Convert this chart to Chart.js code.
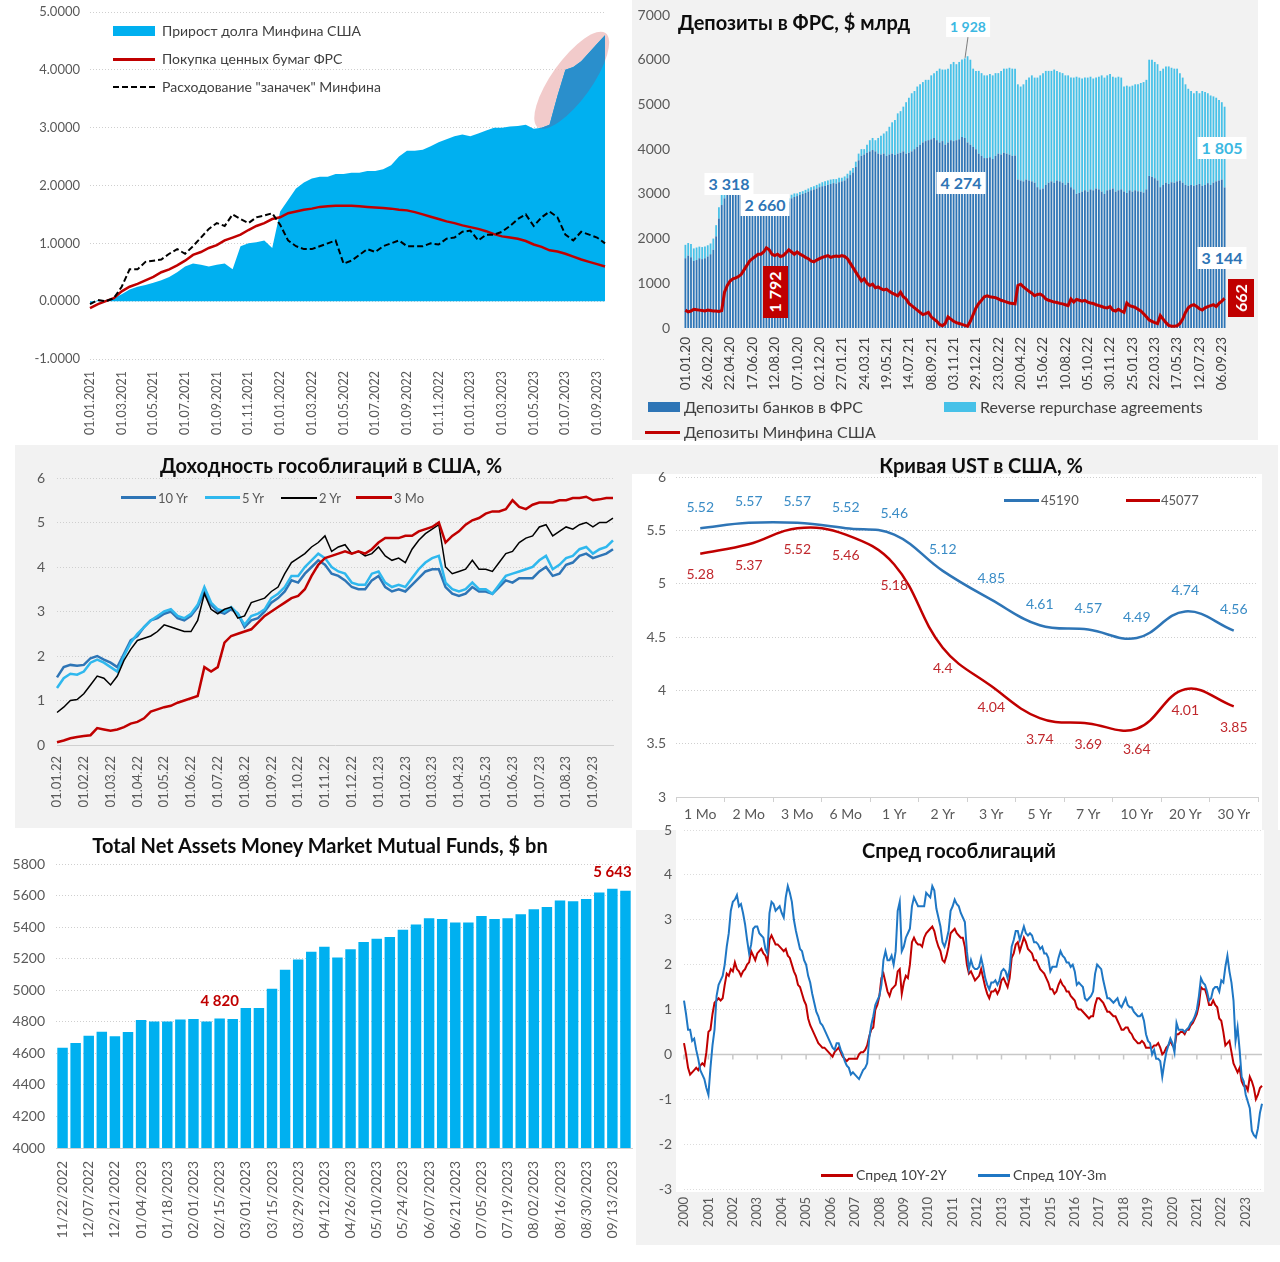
<!DOCTYPE html>
<html>
<head>
<meta charset="utf-8">
<title>Ликвидность в США</title>
<script src="https://cdn.jsdelivr.net/npm/chart.js@4.4.0/dist/chart.umd.min.js"></script>
<style>
  body { margin: 0; width: 1280px; height: 1262px; position: relative; overflow: hidden; background: #fff;
         font-family: Lato, "Noto Sans", sans-serif; }
  .box { position: absolute; }
  canvas { position: absolute; }
  .txt { position: absolute; white-space: nowrap; line-height: 1; }
  .mid { transform: translate(-50%, -50%); }
  .lft { transform: translateY(-50%); }
  .title { font-weight: 700; font-size: 20px; color: #0d0d0d; }
  .leg { font-size: 13px; color: #595959; }
  .tag { background: #fff; padding: 3px 4px; font-weight: 700; font-size: 16px; }
</style>
</head>
<body>

<!-- panel backgrounds -->
<div class="box" style="left:632px;top:0;width:626px;height:440px;background:#f2f2f2"></div>
<div class="box" style="left:15px;top:445px;width:617px;height:383px;background:#f2f2f2"></div>
<div class="box" style="left:632px;top:445px;width:646px;height:385px;background:#f2f2f2"></div>
<div class="box" style="left:632px;top:474px;width:630px;height:356px;background:#fff"></div>
<div class="box" style="left:636px;top:830px;width:644px;height:415px;background:#f2f2f2"></div>
<div class="box" style="left:676px;top:830px;width:588px;height:362px;background:#fff"></div>

<canvas id="debtChart" width="620" height="440" style="left:0;top:0"></canvas>
<canvas id="fedChart" width="626" height="440" style="left:632px;top:0"></canvas>
<canvas id="yieldChart" width="617" height="375" style="left:15px;top:445px"></canvas>
<canvas id="curveChart" width="646" height="385" style="left:632px;top:445px"></canvas>
<canvas id="mmfChart" width="640" height="442" style="left:0;top:820px"></canvas>
<canvas id="spreadChart" width="644" height="425" style="left:636px;top:820px"></canvas>

<!-- panel 1 legend -->
<div class="box" style="left:113px;top:26px;width:42px;height:10px;background:#00b0f0"></div>
<div class="txt lft leg" style="left:162px;top:31px;font-size:14px;color:#404040">Прирост долга Минфина США</div>
<div class="box" style="left:113px;top:58px;width:42px;height:2.5px;background:#c00000"></div>
<div class="txt lft leg" style="left:162px;top:59px;font-size:14px;color:#404040">Покупка ценных бумаг ФРС</div>
<div class="box" style="left:113px;top:86px;width:42px;height:0;border-top:2px dashed #000"></div>
<div class="txt lft leg" style="left:162px;top:87px;font-size:14px;color:#404040">Расходование "заначек" Минфина</div>

<!-- panel 2 title, tags, legend -->
<div class="txt lft title" style="left:678px;top:22px">Депозиты в ФРС, $ млрд</div>
<div class="box" style="left:966px;top:37px;width:1px;height:21px;background:#7f7f7f;transform:rotate(8deg)"></div>
<div class="txt mid tag" style="left:968px;top:27px;color:#3cb8e2;font-size:14px">1 928</div>
<div class="txt mid tag" style="left:729px;top:184px;color:#2e75b6">3 318</div>
<div class="txt mid tag" style="left:765px;top:205px;color:#2e75b6">2 660</div>
<div class="txt mid tag" style="left:961px;top:183px;color:#2e75b6">4 274</div>
<div class="txt mid tag" style="left:1222px;top:148px;color:#3cb8e2">1 805</div>
<div class="txt mid tag" style="left:1222px;top:258px;color:#2e75b6">3 144</div>
<div class="box" style="left:763px;top:266px;width:25px;height:52px;background:#c00000"></div>
<div class="txt" style="left:775px;top:292px;transform:translate(-50%,-50%) rotate(-90deg);color:#fff;font-weight:700;font-size:16px">1 792</div>
<div class="box" style="left:1228px;top:279px;width:26px;height:38px;background:#c00000"></div>
<div class="txt" style="left:1241px;top:298px;transform:translate(-50%,-50%) rotate(-90deg);color:#fff;font-weight:700;font-size:16px">662</div>
<div class="box" style="left:648px;top:402px;width:32px;height:10px;background:#2e75b6"></div>
<div class="txt lft" style="left:684px;top:407px;font-size:16px;color:#404040">Депозиты банков в ФРС</div>
<div class="box" style="left:944px;top:402px;width:32px;height:10px;background:#47c1e8"></div>
<div class="txt lft" style="left:980px;top:407px;font-size:16px;color:#404040">Reverse repurchase agreements</div>
<div class="box" style="left:645px;top:431px;width:35px;height:3px;background:#c00000"></div>
<div class="txt lft" style="left:684px;top:432px;font-size:16px;color:#404040">Депозиты Минфина США</div>

<!-- panel 3 title, legend -->
<div class="txt mid title" style="left:331px;top:465px">Доходность гособлигаций в США, %</div>
<div class="box" style="left:121px;top:496px;width:35px;height:3px;background:#2e75b6"></div>
<div class="txt lft leg" style="left:158px;top:498px">10 Yr</div>
<div class="box" style="left:205px;top:496px;width:35px;height:3px;background:#2fb8ee"></div>
<div class="txt lft leg" style="left:242px;top:498px">5 Yr</div>
<div class="box" style="left:281px;top:497px;width:36px;height:1.5px;background:#000"></div>
<div class="txt lft leg" style="left:319px;top:498px">2 Yr</div>
<div class="box" style="left:356px;top:496px;width:36px;height:3px;background:#c00000"></div>
<div class="txt lft leg" style="left:394px;top:498px">3 Mo</div>

<!-- panel 4 title, legend -->
<div class="txt mid title" style="left:981px;top:465px">Кривая UST в США, %</div>
<div class="box" style="left:1004px;top:499px;width:35px;height:3px;background:#2e75b6"></div>
<div class="txt lft leg" style="left:1041px;top:500px">45190</div>
<div class="box" style="left:1126px;top:499px;width:34px;height:3px;background:#c00000"></div>
<div class="txt lft leg" style="left:1161px;top:500px">45077</div>

<!-- panel 5 title -->
<div class="txt mid title" style="left:320px;top:845px">Total Net Assets Money Market Mutual Funds, $ bn</div>

<!-- panel 6 title, legend -->
<div class="txt mid title" style="left:959px;top:850px">Спред гособлигаций</div>
<div class="box" style="left:821px;top:1174px;width:32px;height:2.5px;background:#c00000"></div>
<div class="txt lft" style="left:856px;top:1175px;font-size:14px;color:#404040">Спред 10Y-2Y</div>
<div class="box" style="left:978px;top:1174px;width:32px;height:2.5px;background:#1f77c4"></div>
<div class="txt lft" style="left:1013px;top:1175px;font-size:14px;color:#404040">Спред 10Y-3m</div>

<script>
function pad2(n) { return (n < 10 ? '0' : '') + n; }

// ---------- 1. debt growth, trillions, twice a month from 01.01.2021 ----------
var debtLabels = [];
for (var y = 2021; y <= 2023; y++) {
    for (var m = 1; m <= 12; m++) {
        debtLabels.push('01.' + pad2(m) + '.' + y, '15.' + pad2(m) + '.' + y);
    }
}
debtLabels.length = 66;

var debtGrowth = [
    -0.05, 0.02, 0.02, 0.05, 0.12, 0.20, 0.25, 0.28, 0.32, 0.36, 0.42, 0.50,
    0.60, 0.65, 0.63, 0.60, 0.63, 0.65, 0.55, 0.95, 1.00, 1.02, 1.05, 0.92,
    1.55, 1.75, 1.95, 2.05, 2.12, 2.15, 2.15, 2.20, 2.20, 2.22, 2.22, 2.25,
    2.25, 2.28, 2.35, 2.50, 2.60, 2.60, 2.62, 2.68, 2.75, 2.80, 2.85, 2.88,
    2.85, 2.90, 2.95, 3.00, 3.00, 3.02, 3.03, 3.05, 2.98, 3.00, 3.05, 3.55,
    4.00, 4.05, 4.15, 4.30, 4.45, 4.60
];
var fedPurchases = [
    -0.12, -0.05, 0.00, 0.05, 0.17, 0.25, 0.30, 0.36, 0.42, 0.50, 0.55, 0.62,
    0.70, 0.80, 0.85, 0.92, 0.97, 1.05, 1.10, 1.15, 1.23, 1.30, 1.35, 1.42,
    1.45, 1.52, 1.55, 1.58, 1.60, 1.63, 1.64, 1.65, 1.65, 1.65, 1.64, 1.63,
    1.62, 1.61, 1.60, 1.58, 1.57, 1.54, 1.50, 1.46, 1.42, 1.38, 1.35, 1.31,
    1.28, 1.25, 1.21, 1.16, 1.12, 1.10, 1.08, 1.04, 0.98, 0.94, 0.88, 0.86,
    0.82, 0.77, 0.72, 0.68, 0.64, 0.60
];
var treasuryStash = [
    -0.05, 0.02, 0.00, 0.05, 0.25, 0.55, 0.55, 0.68, 0.70, 0.72, 0.82, 0.90,
    0.82, 0.95, 1.10, 1.25, 1.35, 1.30, 1.50, 1.42, 1.35, 1.45, 1.48, 1.52,
    1.32, 1.05, 0.95, 0.90, 0.90, 0.95, 1.00, 1.05, 0.65, 0.70, 0.80, 0.90,
    0.85, 0.95, 1.00, 1.05, 0.95, 0.95, 0.95, 1.00, 0.98, 1.08, 1.10, 1.20,
    1.22, 1.05, 1.15, 1.15, 1.20, 1.30, 1.42, 1.50, 1.30, 1.45, 1.55, 1.45,
    1.15, 1.05, 1.20, 1.15, 1.10, 1.00
];

// ---------- 2. deposits at the Fed, $ bn, weekly from 01.01.20 ----------
var fedLabels = [];
for (var w = 0; w < 194; w++) {
    var d = new Date(2020, 0, 1 + 7 * w);
    fedLabels.push(pad2(d.getDate()) + '.' + pad2(d.getMonth() + 1) + '.' + String(d.getFullYear()).slice(2));
}
var bankDeposits = [
    1560, 1620, 1580, 1500, 1520, 1560, 1540, 1560,
    1600, 1650, 1750, 2050, 2450, 2750, 2900, 3000,
    3100, 3250, 3318, 3250, 3150, 3050, 3080, 2980,
    2900, 2850, 2800, 2750, 2700, 2660, 2700, 2720,
    2750, 2800, 2850, 2880, 2850, 2830, 2900, 2930,
    2950, 2980, 3000, 3020, 3050, 3080, 3100, 3120,
    3150, 3170, 3180, 3200, 3220, 3240, 3230, 3260,
    3280, 3300, 3350, 3420, 3480, 3600, 3750, 3850,
    3880, 3920, 3950, 3980, 3950, 3900, 3880, 3900,
    3850, 3880, 3900, 3870, 3900, 3920, 3950, 3900,
    3920, 3950, 4000, 4050, 4100, 4150, 4180, 4200,
    4220, 4250, 4200, 4150, 4180, 4100, 4150, 4200,
    4180, 4200, 4220, 4274, 4250, 4150, 4100, 4050,
    4000, 3900, 3850, 3800, 3800, 3820, 3780, 3850,
    3900, 3880, 3920, 3900, 3880, 3850, 3860, 3320,
    3300, 3280, 3320, 3300, 3280, 3250, 3150, 3100,
    3120, 3200, 3250, 3280, 3250, 3300, 3280, 3250,
    3200, 3250, 3150, 3100, 3000, 3020, 3050, 3080,
    3050, 3100, 3080, 3120, 3100, 3050, 3000, 3080,
    3100, 3120, 3050, 3080, 3100, 3050, 3020, 3080,
    3050, 3080, 3060, 3050, 3030, 3100, 3400, 3380,
    3350, 3300, 3150, 3200, 3250, 3220, 3260, 3250,
    3280, 3300, 3250, 3200, 3180, 3200, 3180, 3200,
    3220, 3180, 3200, 3240, 3200, 3250, 3280, 3300,
    3320, 3144
];
var reverseRepo = [
    300, 280, 300, 280, 280, 260, 270, 260,
    250, 240, 250, 250, 250, 230, 200, 200,
    150, 100, 80, 80, 80, 80, 80, 80,
    70, 70, 70, 70, 70, 70, 70, 70,
    80, 80, 80, 80, 80, 70, 80, 80,
    60, 60, 60, 70, 70, 70, 70, 80,
    80, 90, 100, 100, 100, 90, 100, 100,
    80, 90, 100, 100, 100, 120, 150, 150,
    120, 180, 250, 270, 250, 350, 420, 450,
    550, 620, 700, 780, 900, 930, 1000, 1150,
    1230, 1300, 1300, 1350, 1350, 1350, 1370, 1350,
    1430, 1450, 1550, 1650, 1600, 1680, 1650, 1700,
    1770, 1700, 1730, 1730, 1780, 1928, 1900, 1750,
    1750, 1850, 1850, 1850, 1850, 1860, 1870, 1850,
    1800, 1870, 1880, 1900, 1940, 1950, 1940, 2130,
    2100, 2170, 2230, 2300, 2370, 2350, 2450, 2550,
    2580, 2550, 2500, 2470, 2530, 2450, 2440, 2450,
    2450, 2400, 2450, 2500, 2620, 2580, 2530, 2520,
    2550, 2520, 2500, 2480, 2520, 2600, 2600, 2570,
    2580, 2500, 2550, 2540, 2500, 2350, 2400, 2320,
    2370, 2370, 2390, 2430, 2470, 2450, 2600, 2620,
    2600, 2600, 2600, 2600, 2600, 2630, 2560, 2550,
    2520, 2400, 2350, 2250, 2170, 2100, 2070, 2100,
    2030, 2120, 2080, 2010, 2000, 1930, 1870, 1800,
    1730, 1805
];
var tgaDeposits = [
    400, 360, 380, 420, 410, 400, 390, 380,
    400, 390, 380, 380, 370, 390, 800, 950,
    1050, 1100, 1120, 1150, 1200, 1300, 1400, 1500,
    1550, 1600, 1650, 1650, 1700, 1792, 1750, 1650,
    1620, 1650, 1600, 1620, 1680, 1750, 1700, 1650,
    1700, 1650, 1620, 1580, 1550, 1500, 1480, 1520,
    1550, 1580, 1600, 1620, 1580, 1600, 1610, 1600,
    1620, 1600, 1550, 1450, 1350, 1250, 1150, 1050,
    1100, 1000, 950, 980, 900, 920, 880, 850,
    870, 820, 780, 750, 720, 800, 700, 650,
    550, 500, 450, 400, 350, 300, 320, 350,
    250, 200, 150, 80, 50, 100, 250, 200,
    150, 120, 100, 80, 60, 40, 150, 300,
    450, 550, 620, 700, 720, 700, 690, 680,
    650, 620, 600, 580, 560, 550, 540, 950,
    980, 920, 870, 820, 780, 720, 750, 760,
    720, 650, 620, 600, 580, 570, 550, 540,
    520, 500, 650, 580, 640, 620, 600, 620,
    580, 560, 550, 520, 500, 480, 460, 450,
    480, 400, 380, 420, 380, 350, 560, 500,
    480, 460, 420, 380, 320, 250, 180, 150,
    120, 100, 280, 200, 120, 60, 40, 40,
    50, 100, 200, 350, 450, 500, 520, 480,
    430, 400, 450, 480, 500, 520, 480, 550,
    600, 662
];

// ---------- 3. treasury yields, %, four points a month from 01.01.22 ----------
var yieldLabels = [];
for (var yy = 22; yy <= 23; yy++) {
    for (var mm = 1; mm <= 12; mm++) {
        [1, 8, 15, 22].forEach(function (dd) { yieldLabels.push(pad2(dd) + '.' + pad2(mm) + '.' + yy); });
    }
}
yieldLabels.length = 84;

var yield10y = [
    1.52, 1.75, 1.80, 1.78, 1.80, 1.95, 2.00, 1.92, 1.85, 1.75, 2.05, 2.35,
    2.45, 2.65, 2.80, 2.85, 2.95, 3.00, 2.85, 2.80, 2.90, 3.10, 3.45, 3.15,
    3.00, 2.95, 3.05, 2.95, 2.65, 2.80, 2.85, 3.00, 3.20, 3.30, 3.45, 3.70,
    3.65, 3.85, 4.00, 4.15, 4.05, 3.85, 3.80, 3.70, 3.55, 3.50, 3.50, 3.70,
    3.80, 3.55, 3.45, 3.50, 3.45, 3.60, 3.75, 3.90, 3.95, 3.95, 3.55, 3.40,
    3.35, 3.40, 3.55, 3.45, 3.45, 3.40, 3.55, 3.70, 3.65, 3.75, 3.75, 3.75,
    3.90, 4.00, 3.80, 3.85, 4.05, 4.10, 4.25, 4.30, 4.20, 4.25, 4.30, 4.40
];
var yield5y = [
    1.28, 1.50, 1.60, 1.58, 1.65, 1.85, 1.92, 1.85, 1.75, 1.65, 2.00, 2.30,
    2.50, 2.65, 2.80, 2.90, 3.00, 3.05, 2.90, 2.85, 2.95, 3.15, 3.55, 3.20,
    3.05, 3.00, 3.10, 2.95, 2.70, 2.90, 2.95, 3.05, 3.30, 3.40, 3.55, 3.80,
    3.80, 4.00, 4.15, 4.30, 4.20, 4.00, 3.90, 3.85, 3.65, 3.60, 3.60, 3.85,
    3.90, 3.65, 3.55, 3.60, 3.55, 3.75, 3.95, 4.10, 4.20, 4.25, 3.65, 3.50,
    3.45, 3.50, 3.65, 3.50, 3.50, 3.40, 3.60, 3.80, 3.85, 3.90, 3.95, 4.00,
    4.15, 4.25, 3.95, 4.05, 4.20, 4.25, 4.40, 4.45, 4.30, 4.40, 4.45, 4.60
];
var yield2y = [
    0.73, 0.85, 1.00, 1.02, 1.15, 1.35, 1.55, 1.50, 1.35, 1.55, 1.90, 2.15,
    2.35, 2.40, 2.45, 2.55, 2.70, 2.65, 2.60, 2.55, 2.55, 2.80, 3.40, 3.05,
    2.95, 3.05, 3.10, 2.85, 2.90, 3.20, 3.25, 3.30, 3.45, 3.55, 3.85, 4.10,
    4.20, 4.30, 4.45, 4.55, 4.70, 4.35, 4.45, 4.50, 4.30, 4.35, 4.25, 4.30,
    4.45, 4.25, 4.15, 4.20, 4.10, 4.40, 4.60, 4.75, 4.85, 4.95, 4.00, 3.85,
    3.90, 3.95, 4.15, 3.95, 3.95, 3.90, 4.10, 4.30, 4.35, 4.55, 4.65, 4.70,
    4.90, 4.95, 4.70, 4.80, 4.90, 4.85, 4.95, 5.00, 4.90, 5.00, 5.00, 5.10
];
var yield3m = [
    0.06, 0.10, 0.15, 0.18, 0.20, 0.22, 0.38, 0.35, 0.32, 0.35, 0.40, 0.48,
    0.52, 0.60, 0.75, 0.80, 0.85, 0.88, 0.95, 1.00, 1.05, 1.10, 1.75, 1.65,
    1.75, 2.30, 2.45, 2.50, 2.55, 2.60, 2.75, 2.90, 3.00, 3.10, 3.20, 3.30,
    3.35, 3.50, 3.80, 4.05, 4.20, 4.25, 4.30, 4.35, 4.30, 4.35, 4.30, 4.40,
    4.55, 4.65, 4.65, 4.65, 4.70, 4.70, 4.80, 4.85, 4.90, 5.00, 4.55, 4.70,
    4.80, 4.95, 5.05, 5.10, 5.20, 5.25, 5.25, 5.30, 5.50, 5.35, 5.30, 5.40,
    5.45, 5.45, 5.45, 5.50, 5.50, 5.55, 5.55, 5.58, 5.50, 5.52, 5.55, 5.55
];

// ---------- 4. UST curve ----------
var tenors = ['1 Mo', '2 Mo', '3 Mo', '6 Mo', '1 Yr', '2 Yr', '3 Yr', '5 Yr', '7 Yr', '10 Yr', '20 Yr', '30 Yr'];
var curve45190 = [5.52, 5.57, 5.57, 5.52, 5.46, 5.12, 4.85, 4.61, 4.57, 4.49, 4.74, 4.56];
var curve45077 = [5.28, 5.37, 5.52, 5.46, 5.18, 4.4, 4.04, 3.74, 3.69, 3.64, 4.01, 3.85];

// ---------- 5. money market funds, $ bn, weekly ----------
var mmfDates = [
    '11/22/2022', '11/30/2022', '12/07/2022', '12/14/2022', '12/21/2022', '12/28/2022',
    '01/04/2023', '01/11/2023', '01/18/2023', '01/25/2023', '02/01/2023', '02/08/2023',
    '02/15/2023', '02/22/2023', '03/01/2023', '03/08/2023', '03/15/2023', '03/22/2023',
    '03/29/2023', '04/05/2023', '04/12/2023', '04/19/2023', '04/26/2023', '05/03/2023',
    '05/10/2023', '05/17/2023', '05/24/2023', '05/31/2023', '06/07/2023', '06/14/2023',
    '06/21/2023', '06/28/2023', '07/05/2023', '07/12/2023', '07/19/2023', '07/26/2023',
    '08/02/2023', '08/09/2023', '08/16/2023', '08/23/2023', '08/30/2023', '09/06/2023',
    '09/13/2023', '09/20/2023'
];
var mmfAssets = [
    4635, 4666, 4712, 4737, 4708, 4735, 4811, 4801, 4801, 4815, 4818,
    4801, 4820, 4818, 4888, 4888, 5010, 5130, 5194, 5244, 5276, 5208,
    5259, 5306, 5327, 5337, 5384, 5416, 5456, 5452, 5430, 5430, 5470,
    5452, 5456, 5481, 5513, 5528, 5568, 5564, 5578, 5620, 5643, 5631
];
var mmfMarked = [12, 42];

// ---------- 6. yield spreads, %, monthly from 01.2000 ----------
var spreadLabels = [];
for (var sy = 2000; sy <= 2023; sy++) {
    for (var sm = 1; sm <= 12; sm++) spreadLabels.push(pad2(sm) + '.' + sy);
}
spreadLabels.length = 285;

var spread10y2y = [
    0.25, 0.0, -0.3, -0.45, -0.4, -0.35, -0.3, -0.35, -0.25, -0.2, -0.25, 0.05,
    0.5, 0.55, 0.9, 1.15, 1.2, 1.25, 1.2, 1.25, 1.55, 1.8, 1.75, 1.9,
    1.85, 2.05, 1.9, 1.85, 1.75, 1.85, 1.9, 2.0, 2.05, 2.3, 2.2, 2.1,
    2.25, 2.3, 2.35, 2.25, 2.2, 2.05, 2.55, 2.65, 2.55, 2.45, 2.45, 2.4,
    2.35, 2.3, 2.35, 2.2, 2.15, 2.0, 1.85, 1.75, 1.55, 1.5, 1.35, 1.2,
    1.1, 0.8, 0.65, 0.55, 0.45, 0.35, 0.25, 0.2, 0.15, 0.15, 0.1, 0.05,
    0.0, -0.05, 0.05, 0.1, 0.15, 0.05, -0.05, -0.1, -0.15, -0.1, -0.1, -0.1,
    -0.1, -0.1, 0.0, 0.05, 0.05, 0.1, 0.2, 0.4, 0.55, 0.6, 1.0, 1.1,
    1.3, 1.7, 1.8, 1.6, 1.4, 1.3, 1.45, 1.5, 1.55, 1.85, 1.9, 1.35,
    1.6, 1.75, 1.7, 2.0, 2.5, 2.6, 2.5, 2.45, 2.45, 2.4, 2.6, 2.7,
    2.75, 2.8, 2.85, 2.75, 2.55, 2.4, 2.3, 2.1, 2.05, 2.2, 2.4, 2.7,
    2.75, 2.8, 2.7, 2.65, 2.6, 2.6, 2.4, 2.0, 1.8, 1.85, 1.75, 1.65,
    1.7, 1.75, 1.9, 1.7, 1.5, 1.35, 1.25, 1.4, 1.4, 1.45, 1.35, 1.45,
    1.65, 1.7, 1.6, 1.5, 1.7, 2.15, 2.25, 2.45, 2.5, 2.3, 2.45, 2.6,
    2.5, 2.35, 2.3, 2.25, 2.1, 2.1, 2.0, 1.9, 1.85, 1.8, 1.7, 1.6,
    1.45, 1.45, 1.35, 1.4, 1.55, 1.65, 1.55, 1.5, 1.4, 1.4, 1.3, 1.25,
    1.2, 1.05, 1.0, 1.0, 0.95, 0.9, 0.85, 0.8, 0.85, 0.85, 1.1, 1.25,
    1.25, 1.2, 1.15, 1.05, 0.95, 0.95, 0.9, 0.85, 0.85, 0.75, 0.65, 0.55,
    0.55, 0.6, 0.6, 0.5, 0.45, 0.35, 0.3, 0.25, 0.25, 0.3, 0.25, 0.15,
    0.15, 0.15, 0.15, 0.2, 0.2, 0.25, 0.15, 0.0, 0.05, 0.15, 0.2, 0.3,
    0.2, 0.15, 0.45, 0.45, 0.5, 0.5, 0.45, 0.55, 0.55, 0.65, 0.7, 0.8,
    0.9, 1.1, 1.5, 1.45, 1.45, 1.3, 1.1, 1.1, 1.2, 1.1, 1.05, 0.8,
    0.75, 0.5, 0.2, 0.25, 0.3, 0.05, -0.2, -0.3, -0.4, -0.3, -0.6, -0.7,
    -0.7, -0.8, -0.5, -0.6, -0.75, -1.0, -0.9, -0.75, -0.7
];
var spread10y3m = [
    1.2, 0.9, 0.55, 0.55, 0.3, 0.35, 0.1, -0.1, -0.35, -0.45, -0.55, -0.75,
    -0.9, -0.3, 0.2, 0.55, 1.3, 1.55, 1.65, 1.75, 2.0, 2.4, 2.7, 3.2,
    3.4, 3.45, 3.55, 3.3, 3.35, 3.15, 2.9, 2.55, 2.25, 2.45, 2.8, 2.85,
    2.85, 2.7, 2.65, 2.6, 2.35, 2.25, 3.15, 3.4, 3.35, 3.2, 3.25, 3.3,
    3.15, 3.05, 3.5, 3.75, 3.6, 3.4, 3.0, 2.75, 2.55, 2.35, 2.3, 2.1,
    2.0, 1.75, 1.6, 1.35, 1.15, 0.95, 0.85, 0.7, 0.65, 0.55, 0.45, 0.35,
    0.25, 0.15, 0.1, 0.25, 0.25, 0.1, 0.0, -0.15, -0.25, -0.3, -0.45, -0.4,
    -0.45, -0.5, -0.55, -0.45, -0.35, -0.3, -0.2, 0.35, 0.65, 0.85, 1.1, 1.2,
    1.3, 1.55, 2.1, 2.3, 2.1, 2.1, 2.2, 2.0, 2.3, 3.2, 3.4, 2.3,
    2.4, 2.6, 2.7, 2.8, 3.3, 3.5, 3.4, 3.3, 3.3, 3.3, 3.3, 3.6,
    3.55, 3.5, 3.75, 3.65, 3.25, 3.05, 2.85, 2.5, 2.4, 2.55, 2.75, 3.2,
    3.3, 3.45, 3.35, 3.3, 3.15, 3.05, 2.95, 2.3, 1.9, 2.1, 1.95, 1.9,
    1.9, 1.95, 2.15, 1.95, 1.7, 1.55, 1.45, 1.6, 1.6, 1.65, 1.55, 1.65,
    1.85, 1.9, 1.85, 1.7, 1.9, 2.4, 2.55, 2.75, 2.75, 2.55, 2.7, 2.85,
    2.7, 2.65, 2.7, 2.65, 2.5, 2.5, 2.45, 2.35, 2.4, 2.25, 2.25, 2.15,
    1.85, 1.95, 1.95, 1.95, 2.15, 2.3, 2.2, 2.15, 2.05, 2.05, 1.95, 2.0,
    1.85, 1.55, 1.6, 1.55, 1.5, 1.25, 1.2, 1.25, 1.3, 1.4, 1.8, 2.0,
    1.95, 1.9, 1.65, 1.45, 1.25, 1.25, 1.2, 1.15, 1.2, 1.25, 1.1, 1.05,
    1.15, 1.25, 1.1, 1.05, 1.05, 0.95, 0.9, 0.85, 0.85, 0.9, 0.75, 0.45,
    0.3, 0.25, 0.0, 0.1, -0.1, -0.1, -0.15, -0.5, -0.2, 0.05, 0.2, 0.35,
    0.25, 0.05, 0.7, 0.55, 0.55, 0.55, 0.5, 0.55, 0.6, 0.7, 0.75, 0.85,
    1.0, 1.3, 1.7, 1.6, 1.55, 1.4, 1.2, 1.25, 1.45, 1.5, 1.5, 1.4,
    1.65, 1.6, 1.95, 2.2, 1.85, 1.6, 1.2, 0.3, 0.6, 0.1, -0.5, -0.6,
    -0.9, -1.05, -1.2, -1.7, -1.8, -1.85, -1.65, -1.3, -1.1
];

// ---------- shared settings ----------
Chart.defaults.font.family = 'Lato, "Noto Sans", sans-serif';
Chart.defaults.color = '#595959';
Chart.defaults.animation = false;
Chart.defaults.responsive = false;
Chart.defaults.plugins.legend.display = false;
Chart.defaults.plugins.tooltip.enabled = false;

// fixed axis sizes, and no extra room for the end labels, so plot areas land where planned
function fixWidth(w) {
    return function (scale) { scale.width = w; scale.paddingTop = 0; scale.paddingBottom = 0; };
}
function fixHeight(h) {
    return function (scale) { scale.height = h; scale.paddingLeft = 0; scale.paddingRight = 0; };
}
function everyNth(labels, n) {
    return function (value, index) { return index % n === 0 ? labels[index] : null; };
}
function plain(v) { return String(v); }
function groupThousands(n) { return String(n).replace(/\B(?=(\d{3})+(?!\d))/g, ' '); }

// pink ellipse round the last months of chart 1, area inside it drawn darker
var highlightPlugin = {
    id: 'highlight',
    ellipse: function (chart) {
        var ctx = chart.ctx;
        var cx = chart.scales.x.getPixelForValue(60.8);
        var cy = chart.scales.y.getPixelForValue(3.82);
        ctx.beginPath();
        ctx.ellipse(cx, cy, 58, 20, -0.95, 0, Math.PI * 2);
    },
    beforeDatasetsDraw: function (chart) {
        var ctx = chart.ctx;
        ctx.save();
        this.ellipse(chart);
        ctx.fillStyle = 'rgba(238, 186, 186, 0.75)';
        ctx.fill();
        ctx.restore();
    },
    afterDatasetDraw: function (chart, args) {
        if (args.index !== 0) return;
        var ctx = chart.ctx, pts = args.meta.data;
        var y0 = chart.scales.y.getPixelForValue(0);
        ctx.save();
        this.ellipse(chart);
        ctx.clip();
        ctx.beginPath();
        ctx.moveTo(pts[0].x, y0);
        pts.forEach(function (p) { ctx.lineTo(p.x, p.y); });
        ctx.lineTo(pts[pts.length - 1].x, y0);
        ctx.closePath();
        ctx.fillStyle = '#2a8fcc';
        ctx.fill();
        ctx.restore();
    }
};

// value labels over the points of the curve chart
var pointLabelPlugin = {
    id: 'pointLabels',
    afterDatasetsDraw: function (chart) {
        var ctx = chart.ctx;
        chart.data.datasets.forEach(function (ds, i) {
            var meta = chart.getDatasetMeta(i);
            ctx.save();
            ctx.font = '14px Lato, "Noto Sans", sans-serif';
            ctx.fillStyle = ds.labelColor;
            ctx.textAlign = 'center';
            ctx.textBaseline = 'middle';
            meta.data.forEach(function (pt, j) {
                ctx.fillText(String(ds.data[j]), pt.x, pt.y + ds.labelOffset);
            });
            ctx.restore();
        });
    }
};

// red value tags over chosen bars
var barTagPlugin = {
    id: 'barTags',
    afterDatasetsDraw: function (chart) {
        var ctx = chart.ctx, bars = chart.getDatasetMeta(0).data;
        ctx.save();
        ctx.font = 'bold 15px Lato, "Noto Sans", sans-serif';
        ctx.fillStyle = '#c00000';
        ctx.textAlign = 'center';
        ctx.textBaseline = 'middle';
        mmfMarked.forEach(function (k) {
            ctx.fillText(groupThousands(mmfAssets[k]), bars[k].x, bars[k].y - 17);
        });
        ctx.restore();
    }
};

// solid zero line with small year ticks
var zeroAxisPlugin = {
    id: 'zeroAxis',
    beforeDatasetsDraw: function (chart) {
        var ctx = chart.ctx, area = chart.chartArea, xs = chart.scales.x;
        var y0 = chart.scales.y.getPixelForValue(0);
        ctx.save();
        ctx.strokeStyle = '#c8c8c8';
        ctx.lineWidth = 1.5;
        ctx.beginPath();
        ctx.moveTo(area.left, y0);
        ctx.lineTo(area.right, y0);
        xs.ticks.forEach(function (t, k) {
            if (t.label == null) return;
            var px = xs.getPixelForTick(k);
            ctx.moveTo(px, y0);
            ctx.lineTo(px, y0 + 5);
        });
        ctx.stroke();
        ctx.restore();
    }
};

// ---------- chart 1 ----------
new Chart(document.getElementById('debtChart'), {
    type: 'line',
    data: {
        labels: debtLabels,
        datasets: [
            { label: 'Прирост долга Минфина США', data: debtGrowth, fill: 'origin',
              backgroundColor: '#00b0f0', borderWidth: 0, pointRadius: 0, order: 3 },
            { label: 'Покупка ценных бумаг ФРС', data: fedPurchases, borderColor: '#c00000',
              borderWidth: 2.5, pointRadius: 0, fill: false, order: 2 },
            { label: 'Расходование "заначек" Минфина', data: treasuryStash, borderColor: '#000',
              borderWidth: 2, borderDash: [6, 3], pointRadius: 0, fill: false, order: 1 }
        ]
    },
    options: {
        layout: { padding: { top: 12, right: 15 } },
        scales: {
            x: {
                offset: false,
                grid: { display: false, drawTicks: false },
                border: { display: false },
                ticks: { autoSkip: false, minRotation: 90, maxRotation: 90, padding: 12,
                         font: { size: 12.5 }, callback: everyNth(debtLabels, 4) },
                afterFit: fixHeight(81)
            },
            y: {
                min: -1, max: 5,
                grid: { color: '#cfcfcf', drawTicks: false },
                border: { display: false, dash: [1, 2] },
                ticks: { stepSize: 1, padding: 10, font: { size: 13 },
                         callback: function (v) { return v.toFixed(4); } },
                afterFit: fixWidth(90)
            }
        }
    },
    plugins: [highlightPlugin]
});

// ---------- chart 2 ----------
new Chart(document.getElementById('fedChart'), {
    type: 'bar',
    data: {
        labels: fedLabels,
        datasets: [
            { type: 'line', label: 'Депозиты Минфина США', data: tgaDeposits, borderColor: '#c00000',
              borderWidth: 3, pointRadius: 0, stack: 'tga', order: 0 },
            { label: 'Депозиты банков в ФРС', data: bankDeposits, backgroundColor: '#2e75b6',
              stack: 'fed', order: 1, barPercentage: 0.64, categoryPercentage: 1 },
            { label: 'Reverse repurchase agreements', data: reverseRepo, backgroundColor: '#47c1e8',
              stack: 'fed', order: 2, barPercentage: 0.64, categoryPercentage: 1 }
        ]
    },
    options: {
        layout: { padding: { top: 15, right: 32 } },
        scales: {
            x: {
                stacked: true,
                grid: { display: false, drawTicks: false },
                border: { display: false },
                ticks: { autoSkip: false, minRotation: 90, maxRotation: 90, padding: 9, color: '#404040',
                         font: { size: 13.5 }, callback: everyNth(fedLabels, 8) },
                afterFit: fixHeight(112)
            },
            y: {
                stacked: true, min: 0, max: 7000,
                grid: { display: false, drawTicks: false },
                border: { display: false },
                ticks: { stepSize: 1000, padding: 14, font: { size: 14 }, callback: plain },
                afterFit: fixWidth(52)
            }
        }
    }
});

// ---------- chart 3 ----------
new Chart(document.getElementById('yieldChart'), {
    type: 'line',
    data: {
        labels: yieldLabels,
        datasets: [
            { label: '10 Yr', data: yield10y, borderColor: '#2e75b6', borderWidth: 2.5, pointRadius: 0, order: 4 },
            { label: '5 Yr', data: yield5y, borderColor: '#2fb8ee', borderWidth: 2.5, pointRadius: 0, order: 3 },
            { label: '2 Yr', data: yield2y, borderColor: '#000', borderWidth: 1.5, pointRadius: 0, order: 2 },
            { label: '3 Mo', data: yield3m, borderColor: '#c00000', borderWidth: 2.5, pointRadius: 0, order: 1 }
        ]
    },
    options: {
        layout: { padding: { top: 33, right: 19 } },
        scales: {
            x: {
                offset: false,
                grid: { display: false, drawTicks: false },
                border: { display: true, color: '#d0d0d0' },
                ticks: { autoSkip: false, minRotation: 90, maxRotation: 90, padding: 11,
                         font: { size: 13 }, callback: everyNth(yieldLabels, 4) },
                afterFit: fixHeight(75)
            },
            y: {
                min: 0, max: 6,
                grid: { color: '#cfcfcf', drawTicks: false },
                border: { display: false, dash: [1, 2] },
                ticks: { stepSize: 1, padding: 12, font: { size: 14 }, callback: plain },
                afterFit: fixWidth(42)
            }
        }
    }
});

// ---------- chart 4 ----------
new Chart(document.getElementById('curveChart'), {
    type: 'line',
    data: {
        labels: tenors,
        datasets: [
            { label: '45190', data: curve45190, borderColor: '#2e75b6', borderWidth: 2.5, pointRadius: 0,
              tension: 0.4, labelColor: '#3a8cc6', labelOffset: -21 },
            { label: '45077', data: curve45077, borderColor: '#c00000', borderWidth: 2.5, pointRadius: 0,
              tension: 0.4, labelColor: '#c0282d', labelOffset: 21 }
        ]
    },
    options: {
        layout: { padding: { top: 32, right: 20 } },
        scales: {
            x: {
                offset: true,
                grid: { offset: true, drawOnChartArea: false, tickLength: 5, color: '#d0d0d0' },
                border: { display: true, color: '#d0d0d0' },
                ticks: { padding: 4, font: { size: 14 } },
                afterFit: fixHeight(33)
            },
            y: {
                min: 3, max: 6,
                grid: { color: '#cfcfcf', drawTicks: false },
                border: { display: false, dash: [1, 2] },
                ticks: { stepSize: 0.5, padding: 10, font: { size: 14 }, callback: plain },
                afterFit: fixWidth(44)
            }
        }
    },
    plugins: [pointLabelPlugin]
});

// ---------- chart 5 ----------
new Chart(document.getElementById('mmfChart'), {
    type: 'bar',
    data: {
        labels: mmfDates,
        datasets: [
            { label: 'Total Net Assets', data: mmfAssets, backgroundColor: '#00b0f0',
              barPercentage: 0.8, categoryPercentage: 1 }
        ]
    },
    options: {
        layout: { padding: { top: 44, right: 8 } },
        scales: {
            x: {
                grid: { display: false, drawTicks: false },
                border: { display: true, color: '#d0d0d0' },
                ticks: { autoSkip: false, minRotation: 90, maxRotation: 90, padding: 13,
                         font: { size: 14 }, callback: everyNth(mmfDates, 2) },
                afterFit: fixHeight(114)
            },
            y: {
                min: 4000, max: 5800,
                grid: { color: '#cfcfcf', drawTicks: false },
                border: { display: false, dash: [1, 2] },
                ticks: { stepSize: 200, padding: 11, font: { size: 14 }, callback: plain },
                afterFit: fixWidth(56)
            }
        }
    },
    plugins: [barTagPlugin]
});

// ---------- chart 6 ----------
new Chart(document.getElementById('spreadChart'), {
    type: 'line',
    data: {
        labels: spreadLabels,
        datasets: [
            { label: 'Спред 10Y-2Y', data: spread10y2y, borderColor: '#c00000', borderWidth: 2,
              pointRadius: 0, order: 2 },
            { label: 'Спред 10Y-3m', data: spread10y3m, borderColor: '#1f77c4', borderWidth: 2,
              pointRadius: 0, order: 1 }
        ]
    },
    options: {
        layout: { padding: { top: 10, right: 18 } },
        scales: {
            x: {
                offset: false,
                grid: { display: false, drawTicks: false },
                border: { display: false },
                ticks: { autoSkip: false, minRotation: 90, maxRotation: 90, padding: 8, font: { size: 13 },
                         callback: function (v, i) { return i % 12 === 0 ? spreadLabels[i].slice(3) : null; } },
                afterFit: fixHeight(56)
            },
            y: {
                min: -3, max: 5,
                grid: { color: '#dcdcdc', drawTicks: false },
                border: { display: false, dash: [1, 2] },
                ticks: { stepSize: 1, padding: 12, font: { size: 14 }, callback: plain },
                afterFit: fixWidth(48)
            }
        }
    },
    plugins: [zeroAxisPlugin]
});
</script>
</body>
</html>
